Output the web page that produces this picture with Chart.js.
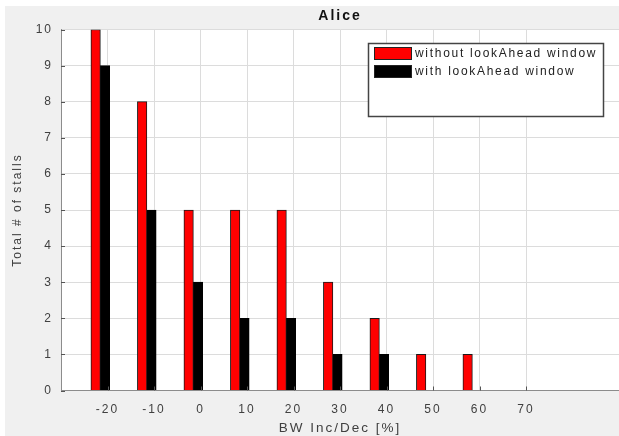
<!DOCTYPE html>
<html><head><meta charset="utf-8">
<script src="https://cdn.jsdelivr.net/npm/chart.js@4/dist/chart.umd.min.js"></script>
<style>html,body{margin:0;padding:0;background:#fff}canvas{display:block}</style>
</head><body>
<canvas id="c" width="619" height="436"></canvas>
<script>
// ---- data ----
const chartTitle = 'Alice';
const xAxisTitle = 'BW Inc/Dec [%]';
const yAxisTitle = 'Total # of stalls';
const categories = [-20, -10, 0, 10, 20, 30, 40, 50, 60, 70];
const seriesNames = ['without lookAhead window', 'with lookAhead window'];
const withoutLookAhead = [10, 8, 5, 5, 5, 3, 2, 1, 1, 0];
const withLookAhead = [9, 5, 3, 2, 2, 1, 1, 0, 0, 0];
const xTickLabels = [-20, -10, 0, 10, 20, 30, 40, 50, 60, 70];
const yTickLabels = [0, 1, 2, 3, 4, 5, 6, 7, 8, 9, 10];

// ---- style / layout ----
const RED_OFFSET = -2.55, BLACK_OFFSET = -0.55;
const FONT = '"Liberation Sans", Arial, Helvetica, sans-serif';
const TEXT = '#404040';
const GRID = '#dcdcdc';

const bgPlugin = {
  id: 'bg',
  beforeDraw(chart) {
    const {ctx, chartArea: a, width, height} = chart;
    ctx.save();
    ctx.fillStyle = '#ffffff';
    ctx.fillRect(0, 0, width, height);
    ctx.fillStyle = '#f0f0f0';
    ctx.fillRect(5, 6, width - 5, height - 6);
    ctx.fillStyle = '#ffffff';
    ctx.fillRect(a.left, a.top, a.right - a.left, a.bottom - a.top);
    ctx.restore();
    ctx.letterSpacing = '2px';
  },
  afterDatasetsDraw(chart) {
    const {ctx, chartArea: a, scales} = chart;
    ctx.save();
    ctx.strokeStyle = '#555';
    ctx.lineWidth = 1;
    ctx.beginPath();
    xTickLabels.forEach(v => {
      const px = Math.round(scales.x.getPixelForValue(v)) + 0.5;
      ctx.moveTo(px, a.bottom); ctx.lineTo(px, a.bottom - 4);
    });
    yTickLabels.forEach(v => {
      const py = Math.round(scales.y.getPixelForValue(v)) + 0.5;
      ctx.moveTo(a.left, py); ctx.lineTo(a.left + 4, py);
    });
    ctx.stroke();
    ctx.restore();
  },
  afterDraw(chart) {
    const {ctx, chartArea: a} = chart;
    ctx.save();
    // title
    ctx.letterSpacing = '2px';
    ctx.fillStyle = '#111';
    ctx.font = 'bold 14px ' + FONT;
    ctx.textAlign = 'center';
    ctx.textBaseline = 'middle';
    ctx.fillText(chartTitle, (a.left + a.right) / 2, 16);
    // legend
    const lx = 368, ly = 43, lw = 235, lh = 73;
    ctx.fillStyle = '#fff';
    ctx.fillRect(lx, ly, lw, lh);
    ctx.strokeStyle = '#444';
    ctx.lineWidth = 1.5;
    ctx.strokeRect(lx + 0.5, ly + 0.5, lw, lh);
    ctx.font = '12px ' + FONT;
    ctx.letterSpacing = '1.7px';
    ctx.textAlign = 'left';
    chart.data.datasets.forEach((ds, i) => {
      const y = 47 + i * 18;
      ctx.fillStyle = ds.backgroundColor;
      ctx.fillRect(374, y, 38, 13);
      ctx.strokeStyle = '#222';
      ctx.lineWidth = 1;
      ctx.strokeRect(374.5, y + 0.5, 37, 12);
      ctx.fillStyle = '#222';
      ctx.fillText(ds.label, 415, y + 7);
    });
    ctx.restore();
  }
};

new Chart(document.getElementById('c'), {
  type: 'bar',
  data: {
    datasets: [
      {
        label: seriesNames[0],
        data: categories.map((c, i) => ({x: c + RED_OFFSET, y: withoutLookAhead[i]})),
        backgroundColor: '#ff0000', borderColor: '#1a1a1a', borderWidth: 1
      },
      {
        label: seriesNames[1],
        data: categories.map((c, i) => ({x: c + BLACK_OFFSET, y: withLookAhead[i]})),
        backgroundColor: '#000000', borderColor: '#000000', borderWidth: 1
      }
    ]
  },
  options: {
    responsive: false,
    devicePixelRatio: 1,
    animation: false,
    grouped: false,
    barThickness: 9.5,
    layout: {padding: {top: 29.5, left: 0, right: 0, bottom: 0}},
    plugins: {legend: {display: false}, title: {display: false}, tooltip: {enabled: false}},
    scales: {
      x: {
        type: 'linear', min: -30, max: 90, offset: false,
        afterBuildTicks: s => { s.ticks = xTickLabels.map(v => ({value: v})); },
        afterFit: s => { s.height = 45.5; },
        ticks: {font: {family: FONT, size: 12}, color: TEXT, padding: 11.5, autoSkip: false, maxRotation: 0},
        grid: {color: GRID, drawTicks: false, offset: false},
        border: {display: true, color: '#8c8c8c'},
        title: {display: true, text: xAxisTitle, color: TEXT, font: {family: FONT, size: 13.5, lineHeight: 1.2}, padding: {top: 0, bottom: 0}}
      },
      y: {
        min: 0, max: 10,
        afterBuildTicks: s => { s.ticks = yTickLabels.map(v => ({value: v})); },
        afterFit: s => { s.width = 61; },
        ticks: {font: {family: FONT, size: 12}, color: TEXT, padding: 8},
        grid: {color: GRID, drawTicks: false},
        border: {display: true, color: '#8c8c8c'},
        title: {display: true, text: yAxisTitle, color: TEXT, font: {family: FONT, size: 12}, padding: {top: 10.8, bottom: 0}}
      }
    }
  },
  plugins: [bgPlugin]
});
</script>
</body></html>
